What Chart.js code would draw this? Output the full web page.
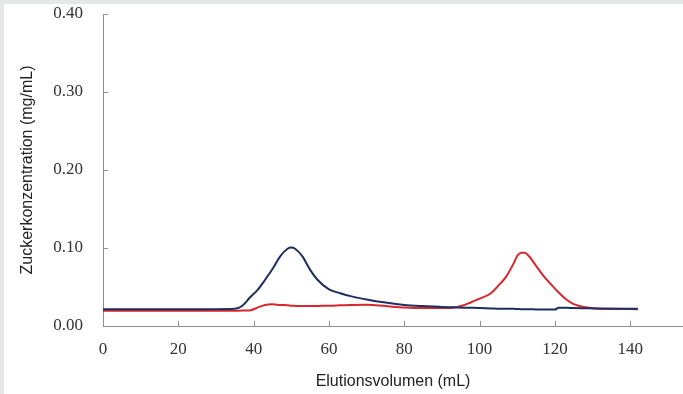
<!DOCTYPE html>
<html>
<head>
<meta charset="utf-8">
<script src="https://cdn.jsdelivr.net/npm/chart.js@4.4.0/dist/chart.umd.min.js"></script>
<style>
  html, body { margin: 0; padding: 0; background: #e6e7e7; overflow: hidden; }
  #wrap { position: absolute; left: 4px; top: 4px; width: 679px; height: 390px; background: #fff; }
</style>
</head>
<body>
<div id="wrap"><canvas id="myChart" width="679" height="390"></canvas></div>
<script>
// elution volume (mL) shared by both curves
var volumes = [0, 30, 35, 37, 39, 41, 43, 45, 47, 49, 50, 51, 53, 55, 57, 60, 63, 66, 70, 75, 80, 85, 90, 93, 96, 100, 103, 105, 107, 109, 110, 111, 112, 113, 115, 117, 120, 121, 123, 125, 128, 131, 135, 142];
// blue curve (first peak ~50 mL)
var blueValues = [0.0215, 0.0215, 0.022, 0.026, 0.0365, 0.046, 0.059, 0.073, 0.089, 0.099, 0.1005, 0.099, 0.089, 0.072, 0.059, 0.047, 0.042, 0.038, 0.034, 0.030, 0.027, 0.0255, 0.0245, 0.024, 0.0235, 0.023, 0.0225, 0.0222, 0.022, 0.022, 0.0218, 0.0216, 0.0215, 0.0215, 0.0213, 0.0212, 0.021, 0.0235, 0.0233, 0.023, 0.0228, 0.0225, 0.0222, 0.022];
// red curve (second peak ~111 mL)
var redValues = [0.0195, 0.0195, 0.0195, 0.0198, 0.020, 0.0235, 0.027, 0.0278, 0.027, 0.0265, 0.026, 0.0258, 0.0256, 0.0256, 0.0258, 0.026, 0.0265, 0.027, 0.0272, 0.0255, 0.0237, 0.023, 0.023, 0.0235, 0.027, 0.035, 0.042, 0.052, 0.063, 0.080, 0.090, 0.094, 0.094, 0.090, 0.077, 0.064, 0.048, 0.043, 0.034, 0.028, 0.024, 0.0225, 0.022, 0.0215];
var yTicks = [0, 0.1, 0.2, 0.3, 0.4];
var xTicks = [0, 20, 40, 60, 80, 100, 120, 140];

var axisColor = "#8e8e8e";

function toPoints(xs, ys) {
  var pts = [];
  for (let i = 0; i < xs.length; i++) {
    pts.push({ x: xs[i], y: ys[i] });
  }
  return pts;
}

// small tick marks pointing into the plot area
const innerTicks = {
  id: "innerTicks",
  afterDatasetsDraw(chart) {
    const ctx = chart.ctx;
    const xs = chart.scales.x;
    const ys = chart.scales.y;
    ctx.save();
    ctx.strokeStyle = axisColor;
    ctx.lineWidth = 1;
    ctx.beginPath();
    yTicks.forEach(function (v) {
      const py = Math.round(ys.getPixelForValue(v)) + 0.5;
      ctx.moveTo(xs.left, py);
      ctx.lineTo(xs.left + 5, py);
    });
    xTicks.forEach(function (v) {
      const px = Math.round(xs.getPixelForValue(v)) + 0.5;
      ctx.moveTo(px, ys.bottom);
      ctx.lineTo(px, ys.bottom - 5);
    });
    ctx.stroke();
    ctx.restore();
  },
};

const data = {
  datasets: [
    {
      label: "blau",
      data: toPoints(volumes, blueValues),
      borderColor: "#1d2f5e",
      borderWidth: 2,
      pointRadius: 0,
      cubicInterpolationMode: "monotone",
    },
    {
      label: "rot",
      data: toPoints(volumes, redValues),
      borderColor: "#d7262e",
      borderWidth: 2,
      pointRadius: 0,
      cubicInterpolationMode: "monotone",
    },
  ],
};

const config = {
  type: "line",
  data: data,
  options: {
    responsive: false,
    animation: false,
    layout: { padding: { top: 10, right: 0, bottom: 0, left: 0 } },
    plugins: { legend: { display: false }, tooltip: { enabled: false } },
    scales: {
      x: {
        type: "linear",
        min: 0,
        max: 154,
        afterBuildTicks: function (scale) {
          scale.ticks = xTicks.map(function (v) { return { value: v }; });
        },
        afterFit: function (scale) {
          scale.height = 68;
          scale.paddingLeft = 0;
          scale.paddingRight = 0;
        },
        grid: { drawOnChartArea: false, drawTicks: false },
        border: { display: true, color: axisColor, width: 1 },
        ticks: {
          padding: 13,
          color: "#333",
          font: { family: "Liberation Serif", size: 17 },
          maxRotation: 0,
        },
        title: {
          display: true,
          text: "Elutionsvolumen (mL)",
          color: "#222",
          font: { family: "Liberation Sans", size: 16 },
          padding: { top: 0, bottom: 3 },
        },
      },
      y: {
        min: 0,
        max: 0.4,
        afterBuildTicks: function (scale) {
          scale.ticks = yTicks.map(function (v) { return { value: v }; });
        },
        afterFit: function (scale) {
          scale.width = 99;
          // tick padding would otherwise push the plot top down
          scale.paddingTop = 0;
          scale.paddingBottom = 0;
        },
        grid: { drawOnChartArea: false, drawTicks: false },
        border: { display: true, color: axisColor, width: 1 },
        ticks: {
          padding: 20,
          color: "#333",
          font: { family: "Liberation Serif", size: 17 },
          callback: function (v) { return Number(v).toFixed(2); },
        },
        title: {
          display: true,
          text: "Zuckerkonzentration (mg/mL)",
          color: "#222",
          font: { family: "Liberation Sans", size: 16 },
          padding: { top: 14, bottom: 0 },
        },
      },
    },
  },
  plugins: [innerTicks],
};

new Chart(document.getElementById("myChart"), config);
</script>
</body>
</html>
